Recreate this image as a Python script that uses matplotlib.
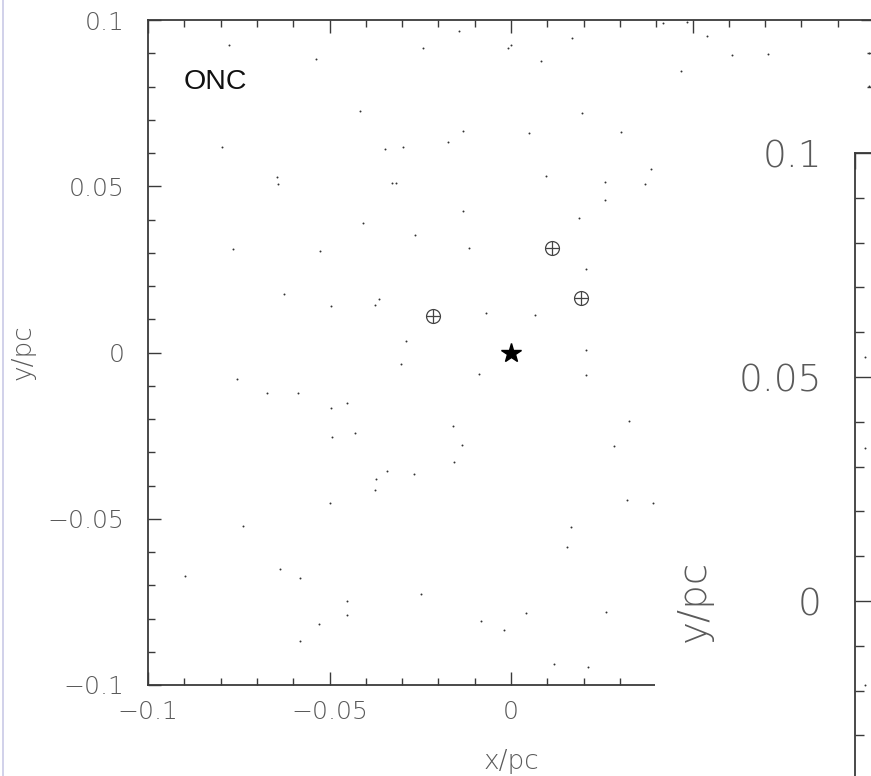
import matplotlib
matplotlib.use('Agg')
import matplotlib.pyplot as plt
from matplotlib.patches import Rectangle
from matplotlib.lines import Line2D
from matplotlib.ticker import MultipleLocator

# ONC field stars, x/pc and y/pc (left panel)
star_x = [-0.0777, -0.0797, -0.0646, -0.0643, -0.0766, -0.0527, -0.0624, -0.0538,
          -0.0143, -0.0242, -0.0008, 0.0000, 0.0168, 0.0082, -0.0415, 0.0195,
          -0.0132, 0.0049, -0.0173, -0.0346, -0.0297, 0.0096, -0.0327, -0.0316,
          -0.0132, 0.0187, -0.0407, -0.0264, -0.0115, 0.0418, 0.0484, 0.0541,
          0.0610, 0.0709, 0.0467, 0.0986, 0.0986, 0.0302, 0.0385, 0.0258,
          0.0368, 0.0258, 0.0206, -0.0497, -0.0376, -0.0365, -0.0069, 0.0066,
          -0.0288, 0.0206, -0.0302, -0.0088, 0.0206, -0.0453, -0.0497, 0.0324,
          -0.0429, -0.0492, -0.0159, -0.0135, 0.0283, -0.0755, -0.0673, -0.0588,
          0.0319, 0.0390, -0.0157, -0.0341, -0.0266, -0.0371, -0.0376, -0.0500,
          0.0165, -0.0739, -0.0898, -0.0635, -0.0582, -0.0582, 0.0154, -0.0451,
          -0.0453, -0.0530, -0.0247, -0.0082, -0.0019, 0.0041, 0.0261, 0.0118,
          0.0212]
star_y = [0.0925, 0.0617, 0.0527, 0.0506, 0.0310, 0.0304, 0.0175, 0.0883,
          0.0967, 0.0916, 0.0916, 0.0925, 0.0946, 0.0877, 0.0726, 0.0720,
          0.0666, 0.0660, 0.0633, 0.0611, 0.0617, 0.0530, 0.0509, 0.0509,
          0.0425, 0.0404, 0.0389, 0.0352, 0.0313, 0.0991, 0.0994, 0.0952,
          0.0895, 0.0898, 0.0846, 0.0901, 0.0801, 0.0663, 0.0551, 0.0512,
          0.0506, 0.0458, 0.0250, 0.0139, 0.0142, 0.0160, 0.0120, 0.0114,
          0.0036, 0.0009, -0.0036, -0.0066, -0.0069, -0.0151, -0.0166, -0.0205,
          -0.0241, -0.0253, -0.0220, -0.0277, -0.0280, -0.0081, -0.0123, -0.0123,
          -0.0443, -0.0452, -0.0328, -0.0355, -0.0364, -0.0380, -0.0413, -0.0452,
          -0.0524, -0.0521, -0.0672, -0.0651, -0.0678, -0.0867, -0.0584, -0.0747,
          -0.0789, -0.0816, -0.0726, -0.0807, -0.0834, -0.0783, -0.0780, -0.0937,
          -0.0946]

# massive stars (circled plus) and the central star
ob_x = [0.0113, 0.0192, -0.0214]
ob_y = [0.0313, 0.0163, 0.0111]
centre_x = [0.0]
centre_y = [0.0]

# stars visible at the edge of the second panel
right_x = [-0.0978, -0.0978, -0.0978]
right_y = [0.0545, 0.0342, -0.0188]

W, H = 871, 776
fig = plt.figure(figsize=(W / 100, H / 100), dpi=100)
fig.patch.set_facecolor('white')

tick_col = '#5a5a5a'
spine_col = '#3a3a3a'
num_fam = ['DejaVu Sans']


def fmt(v, pos):
    if abs(v) < 1e-9:
        return '0'
    s = ('%.2f' % abs(v)).rstrip('0')
    return ('\u2212' if v < 0 else '') + s


def style(ax, size, major_len, minor_len, xpad, ypad):
    for s in ax.spines.values():
        s.set_color(spine_col)
        s.set_linewidth(1.3)
    ax.xaxis.set_major_locator(MultipleLocator(0.05))
    ax.yaxis.set_major_locator(MultipleLocator(0.05))
    ax.xaxis.set_minor_locator(MultipleLocator(0.01))
    ax.yaxis.set_minor_locator(MultipleLocator(0.01))
    ax.tick_params(which='both', direction='in', top=True, right=True,
                   colors=spine_col, labelcolor=tick_col, labelsize=size, width=1.0)
    ax.tick_params(which='major', length=major_len)
    ax.tick_params(which='minor', length=minor_len)
    ax.tick_params(axis='x', pad=xpad)
    ax.tick_params(axis='y', pad=ypad)


def light_labels(ax):
    for lab in ax.get_xticklabels() + ax.get_yticklabels():
        lab.set_family(num_fam)
        lab.set_fontweight('light')


# left panel
ax = fig.add_axes([148 / W, 1 - 685 / H, (874 - 148) / W, (685 - 20) / H])
ax.set_xlim(-0.1, 0.1)
ax.set_ylim(-0.1, 0.1)
ax.scatter(star_x, star_y, s=2.0, color='#333333', linewidths=0)
ax.plot(ob_x, ob_y, 'o', ms=10, mfc='none', mec='#444444', mew=0.9)
ax.plot(ob_x, ob_y, '+', ms=10, mec='#444444', mew=0.9)
ax.plot(centre_x, centre_y, '*', ms=15, color='black')
ax.text(0.049, 0.907, 'ONC', transform=ax.transAxes, fontsize=20.5,
        family=['Liberation Sans', 'DejaVu Sans'], color='#111111',
        ha='left', va='center')
style(ax, 18, 9.5, 5, 11, 17)
# labels to the right of the cover are hidden behind the second panel
ax.xaxis.set_major_formatter(plt.FuncFormatter(
    lambda v, p: fmt(v, p) if v < 0.04 else ''))
ax.yaxis.set_major_formatter(plt.FuncFormatter(fmt))
light_labels(ax)

fig.text(511 / W, 1 - 762 / H, 'x/pc', fontsize=19, color=tick_col,
         family=num_fam, fontweight='light', ha='center', va='center')
fig.text(23 / W, 1 - 352 / H, 'y/pc', fontsize=19, color=tick_col, rotation=90,
         family=num_fam, fontweight='light', ha='center', va='center')

# white area of the overlapping second panel
fig.patches.append(Rectangle((655 / W, 0), 1, 1 - 115 / H, transform=fig.transFigure,
                             facecolor='white', edgecolor='none', zorder=1))

# second panel, mostly off the picture
ax2 = fig.add_axes([855 / W, 1 - 1049 / H, 900 / W, (1049 - 153) / H])
ax2.set_zorder(2)
ax2.set_xlim(-0.1, 0.1)
ax2.set_ylim(-0.1, 0.1)
ax2.scatter(right_x, right_y, s=2.0, color='#333333', linewidths=0)
style(ax2, 27, 11.5, 6.5, 12, 24)
ax2.tick_params(labelbottom=False)
ax2.yaxis.set_major_formatter(plt.FuncFormatter(
    lambda v, p: fmt(v, p) if v > -0.01 else ''))
light_labels(ax2)

fig.text(694 / W, 1 - 601 / H, 'y/pc', fontsize=28, color=tick_col, rotation=90,
         family=num_fam, fontweight='light', ha='center', va='center', zorder=3)

# faint frame line at the left edge
fig.lines.append(Line2D([2.5 / W, 2.5 / W], [0, 1], transform=fig.transFigure,
                        color='#c9c9e6', lw=1.2))

fig.savefig('out.png', dpi=100, facecolor='white')
